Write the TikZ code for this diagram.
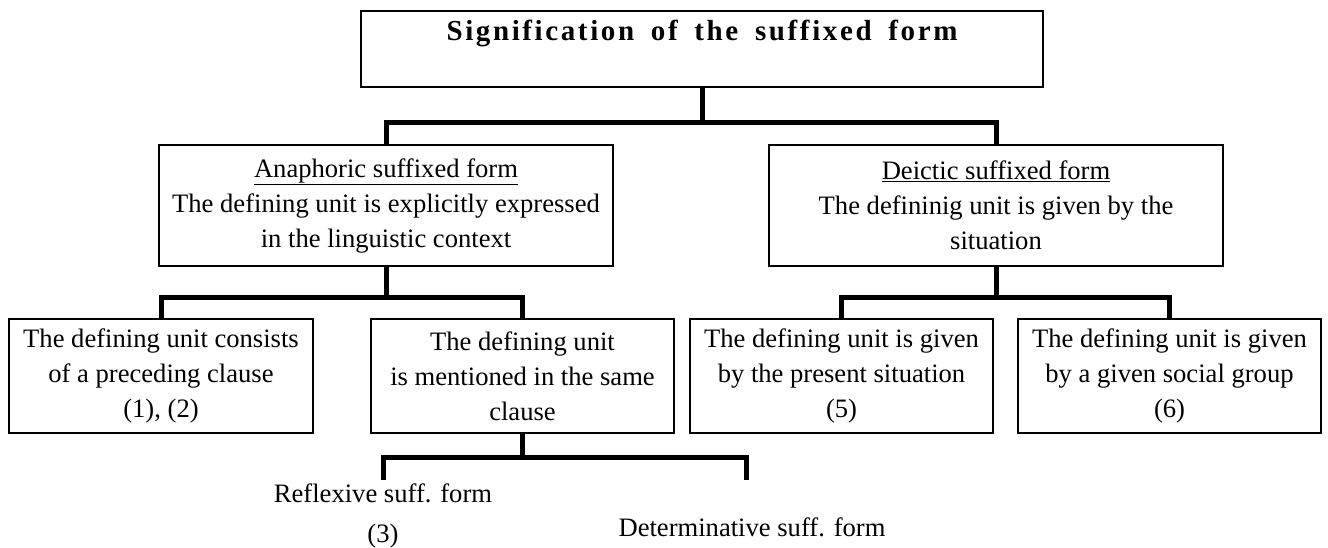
\documentclass[tikz,border=0pt]{standalone}
\usepackage{fontspec}
\setmainfont{Liberation Serif}
\newfontfamily\ttlfont{Liberation Serif}[LetterSpace=9,WordSpace=1.7]
\begin{document}
\begin{tikzpicture}[x=1pt,y=-1pt,
  box/.style={draw=black,line width=1.4pt,inner sep=0pt,align=center,
    font=\fontsize{26.6}{35}\selectfont},
  conn/.style={draw=black,line width=5pt,line join=miter},
  lbl/.style={inner sep=0pt,align=center,font=\fontsize{26.6}{40}\selectfont},
  ttl/.style={inner sep=0pt,font=\ttlfont\fontsize{29}{35}\selectfont\bfseries}]
\useasboundingbox (0,0) rectangle (1328,547);
% boxes
\node[box,minimum width=682,minimum height=76] (top) at (702,49) {};
\node[ttl,anchor=base] (title) at (702,40) {Signification of the suffixed form};
\node[box,minimum width=454,minimum height=121] (ana) at (386,205.5)
  {\underline{Anaphoric suffixed form}\\The defining unit is explicitly expressed\\in the linguistic context};
\node[box,minimum width=454,minimum height=121] (dei) at (996,205.5)
  {\underline{Deictic suffixed form}\\The defininig unit is given by the\\situation};
\node[box,minimum width=304,minimum height=114] (b1) at (161,376)
  {The defining unit consists\\of a preceding clause\\(1), (2)};
\node[box,minimum width=303,minimum height=114] (b2) at (522.5,376)
  {The defining unit\\is mentioned in the same\\clause};
\node[box,minimum width=303,minimum height=114] (b3) at (841.5,376)
  {The defining unit is given\\by the present situation\\(5)};
\node[box,minimum width=303,minimum height=114] (b4) at (1169.5,376)
  {The defining unit is given\\by a given social group\\(6)};
\node[lbl] (refl) at (383,516) {Reflexive suff. form\\(3)};
\node[lbl] (det) at (752,527) {Determinative suff. form};
% junctions
\coordinate (j1) at (702,122);
\coordinate (j2) at (386,297);
\coordinate (j3) at (996,297);
\coordinate (j4) at (522.5,457);
\coordinate (r1) at (383,480);
\coordinate (r2) at (746,480);
% connectors
\draw[conn] (top.south) -- (j1);
\draw[conn] (ana.north) |- (j1) -| (dei.north);
\draw[conn] (ana.south) -- (j2);
\draw[conn] (b1.north) |- (j2) -| (b2.north);
\draw[conn] (dei.south) -- (j3);
\draw[conn] (b3.north) |- (j3) -| (b4.north);
\draw[conn] (b2.south) -- (j4);
\draw[conn] (r1) |- (j4) -| (r2);
\end{tikzpicture}
\end{document}
